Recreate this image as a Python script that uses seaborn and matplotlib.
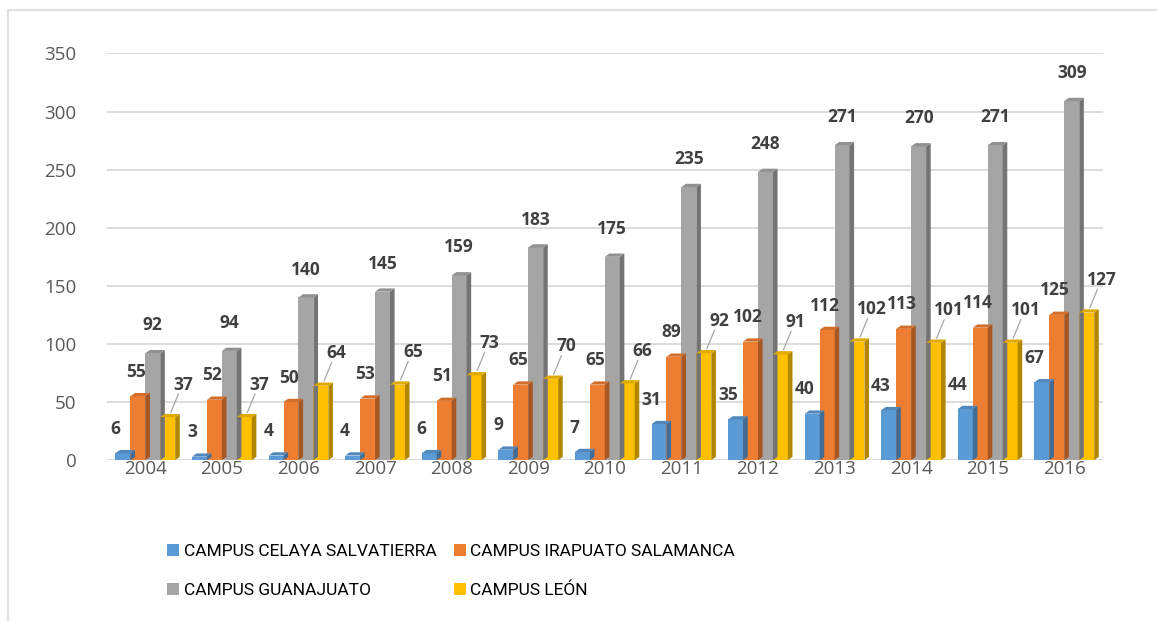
import matplotlib
matplotlib.use("Agg")
import matplotlib.pyplot as plt
from matplotlib.patches import Polygon, Rectangle, Patch
from matplotlib.lines import Line2D
import seaborn as sns
import pandas as pd

years = ["2004", "2005", "2006", "2007", "2008", "2009", "2010",
         "2011", "2012", "2013", "2014", "2015", "2016"]
series_names = ["CAMPUS CELAYA SALVATIERRA", "CAMPUS IRAPUATO SALAMANCA",
                "CAMPUS GUANAJUATO", "CAMPUS LEÓN"]
celaya = [6, 3, 4, 4, 6, 9, 7, 31, 35, 40, 43, 44, 67]
irapuato = [55, 52, 50, 53, 51, 65, 65, 89, 102, 112, 113, 114, 125]
guanajuato = [92, 94, 140, 145, 159, 183, 175, 235, 248, 271, 270, 271, 309]
leon = [37, 37, 64, 65, 73, 70, 66, 92, 91, 102, 101, 101, 127]
colors = ["#5B9BD5", "#ED7D31", "#A5A5A5", "#FFC000"]
yticks = [0, 50, 100, 150, 200, 250, 300, 350]

rows = []
for name, vals in zip(series_names, [celaya, irapuato, guanajuato, leon]):
    for y, v in zip(years, vals):
        rows.append({"year": y, "campus": name, "value": v})
df = pd.DataFrame(rows)

sns.set_theme(style="white")
plt.rcParams['font.family'] = ['Open Sans', 'DejaVu Sans']

fig = plt.figure(figsize=(11.57, 6.21), dpi=100)
ax = fig.add_axes([0.0925, 0.259, 0.8605, 0.655])

sns.barplot(data=df, x="year", y="value", hue="campus", palette=colors,
            hue_order=series_names, order=years, width=0.78, ax=ax,
            saturation=1, legend=False, zorder=3, linewidth=0)

ax.set_ylim(0, 350)
ax.set_xlim(-0.5, 12.5)
ax.set_yticks(yticks)
ax.set_yticklabels([str(t) for t in yticks])
ax.grid(axis="y", color="#D9D9D9", linewidth=1.3, zorder=0)
for s in ax.spines.values():
    s.set_visible(False)
ax.tick_params(axis="both", length=0, labelsize=13.5, colors="#595959")
ax.tick_params(axis="y", pad=22)
ax.tick_params(axis="x", pad=0)
ax.set_xlabel("")
ax.set_ylabel("")

# pseudo 3D sides
dx = 0.06
dy = 2.8
bars = [p for p in ax.patches if isinstance(p, Rectangle) and p.get_width() > 0]
for p in bars:
    x0, w, h = p.get_x(), p.get_width(), p.get_height()
    fc = p.get_facecolor()
    dark = tuple(c * 0.7 for c in fc[:3])
    light = tuple(min(1, c * 0.88) for c in fc[:3])
    side = Polygon([(x0 + w, 0), (x0 + w + dx, dy), (x0 + w + dx, h + dy), (x0 + w, h)],
                   closed=True, facecolor=dark, edgecolor="none", zorder=3)
    top = Polygon([(x0, h), (x0 + dx, h + dy), (x0 + w + dx, h + dy), (x0 + w, h)],
                  closed=True, facecolor=light, edgecolor="none", zorder=3)
    ax.add_patch(side)
    ax.add_patch(top)

# data labels
offsets = [(-0.1, 21), (-0.03, 21), (0.0, 24), (0.2, 28)]
n = len(years)
for si, vals in enumerate([celaya, irapuato, guanajuato, leon]):
    ox, oy = offsets[si]
    for i, v in enumerate(vals):
        p = bars[si * n + i]
        cx = p.get_x() + p.get_width() / 2
        tx, ty = cx + ox, v + oy
        if si == 3:
            ax.plot([cx + 0.04, tx - 0.06], [v + 4, ty - 8], color="#A6A6A6",
                    linewidth=0.9, zorder=4)
        ax.text(tx, ty, str(v), ha="center", va="center", fontsize=12.5,
                fontweight="bold", color="#404040", zorder=5)

# legend (row order: Celaya, Irapuato / Guanajuato, León)
order = [0, 2, 1, 3]
handles = [Patch(facecolor=colors[k], edgecolor="none") for k in order]
labels = [series_names[k] for k in order]
leg = fig.legend(handles, labels, loc="center", bbox_to_anchor=(0.39, 0.08),
                 ncol=2, frameon=False, handlelength=0.7, handleheight=0.7,
                 handletextpad=0.25, columnspacing=1.0, labelspacing=1.35,
                 prop={'family': ['Roboto', 'DejaVu Sans'], 'size': 12.5})
for t in leg.get_texts():
    t.set_color("#000000")

# chart border (top and left visible)
fig.add_artist(Line2D([0.007, 1.0], [0.984, 0.984], transform=fig.transFigure,
                      color="#D9D9D9", linewidth=1.2))
fig.add_artist(Line2D([0.007, 0.007], [0.0, 0.984], transform=fig.transFigure,
                      color="#D9D9D9", linewidth=1.2))

fig.savefig("out.png", dpi=100)
